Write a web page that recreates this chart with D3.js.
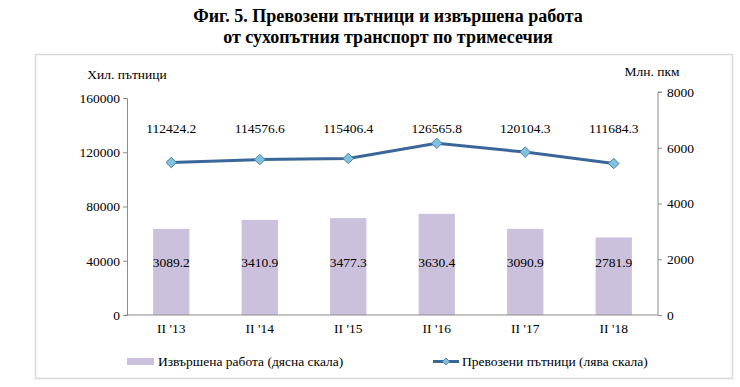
<!DOCTYPE html>
<html>
<head>
<meta charset="utf-8">
<script src="https://cdn.jsdelivr.net/npm/d3@7"></script>
</head>
<body style="margin:0;background:#fff">
<div id="main"></div>
<script>
const categories = ["II '13", "II '14", "II '15", "II '16", "II '17", "II '18"];
const work = [3089.2, 3410.9, 3477.3, 3630.4, 3090.9, 2781.9];
const passengers = [112424.2, 114576.6, 115406.4, 126565.8, 120104.3, 111684.3];
const leftTicks = [0, 40000, 80000, 120000, 160000];
const rightTicks = [0, 2000, 4000, 6000, 8000];

const W = 740, H = 387;
const FONT = '"Liberation Serif"';
const svg = d3.select("#main").append("svg")
  .attr("width", W).attr("height", H);

// title
const title = svg.append("text")
  .attr("text-anchor", "middle")
  .attr("font-weight", "bold")
  .attr("font-size", 18)
  .attr("fill", "#000");
title.append("tspan").attr("x", 388).attr("y", 22).text("Фиг. 5. Превозени пътници и извършена работа");
title.append("tspan").attr("x", 388).attr("y", 43).text("от сухопътния транспорт по тримесечия");

// frame
svg.append("rect")
  .attr("x", 35.5).attr("y", 54.5).attr("width", 697).attr("height", 324)
  .attr("fill", "none").attr("stroke", "#d9d9d9").attr("stroke-width", 1.5);

const x0 = 127, x1 = 658, yBase = 315;
const xScale = d3.scaleBand().domain(categories).range([x0, x1]).paddingInner(0.59).paddingOuter(0.295);
const xPoint = d => xScale(d) + xScale.bandwidth() / 2;
const yLeft = d3.scaleLinear().domain([0, 160000]).range([yBase, 98]);
const yRight = d3.scaleLinear().domain([0, 8000]).range([yBase, 92]);

// bars
svg.selectAll("rect.bar")
  .data(work)
  .join("rect")
  .attr("class", "bar")
  .attr("x", (d, i) => xScale(categories[i]))
  .attr("y", d => yRight(d))
  .attr("width", xScale.bandwidth())
  .attr("height", d => yBase - yRight(d))
  .attr("fill", "#cbc1dc");

// axes
const axisColor = "#8c8c8c";
const leftAxis = svg.append("g")
  .attr("transform", `translate(${x0},0)`)
  .call(d3.axisLeft(yLeft).tickValues(leftTicks).tickSize(4).tickPadding(3).tickFormat(d3.format("d")));
const rightAxis = svg.append("g")
  .attr("transform", `translate(${x1},0)`)
  .call(d3.axisRight(yRight).tickValues(rightTicks).tickSize(4).tickPadding(5).tickFormat(d3.format("d")));
const bottomAxis = svg.append("g")
  .attr("transform", `translate(0,${yBase})`)
  .call(d3.axisBottom(xScale).tickSize(0).tickPadding(8));

[leftAxis, rightAxis, bottomAxis].forEach(g => {
  g.select(".domain").attr("stroke", axisColor).attr("stroke-width", 1);
  g.selectAll(".tick line").attr("stroke", axisColor);
  g.selectAll(".tick text")
    .attr("font-size", 13.5).attr("fill", "#000");
});
rightAxis.select(".domain").attr("d", `M4,${yRight(8000)}H0V${yBase}`);
bottomAxis.select(".domain").attr("d", `M${x0 - 2},0H${x1}`);

// axis titles
svg.append("text").attr("x", 127).attr("y", 79).attr("text-anchor", "middle")
  .attr("font-size", 13.5).text("Хил. пътници");
svg.append("text").attr("x", 652).attr("y", 76).attr("text-anchor", "middle")
  .attr("font-size", 13.5).text("Млн. пкм");

// line
const line = d3.line()
  .x((d, i) => xPoint(categories[i]))
  .y(d => yLeft(d));
svg.append("path")
  .datum(passengers)
  .attr("d", line)
  .attr("fill", "none")
  .attr("stroke", "#3b6699")
  .attr("stroke-width", 3);

const diamond = d3.symbol().type(d3.symbolDiamond2).size(70);
svg.selectAll("path.marker")
  .data(passengers)
  .join("path")
  .attr("class", "marker")
  .attr("d", diamond)
  .attr("transform", (d, i) => `translate(${xPoint(categories[i])},${yLeft(d)})`)
  .attr("fill", "#80c1dc")
  .attr("stroke", "#4d80b3")
  .attr("stroke-width", 1);

// data labels
svg.selectAll("text.plabel")
  .data(passengers)
  .join("text")
  .attr("class", "plabel")
  .attr("x", (d, i) => xPoint(categories[i]))
  .attr("y", 133)
  .attr("text-anchor", "middle")
  .attr("font-size", 13.5)
  .text(d => d3.format(".1f")(d));

svg.selectAll("text.wlabel")
  .data(work)
  .join("text")
  .attr("class", "wlabel")
  .attr("x", (d, i) => xPoint(categories[i]))
  .attr("y", 267)
  .attr("text-anchor", "middle")
  .attr("font-size", 13.5)
  .text(d => d3.format(".1f")(d));

// legend
const lg = svg.append("g").attr("font-size", 13.5);
lg.append("rect").attr("x", 127).attr("y", 358).attr("width", 27).attr("height", 7).attr("fill", "#cbc1dc");
lg.append("text").attr("x", 158).attr("y", 366).text("Извършена работа (дясна скала)");
lg.append("line").attr("x1", 433).attr("x2", 459).attr("y1", 361.5).attr("y2", 361.5)
  .attr("stroke", "#3b6699").attr("stroke-width", 3);
lg.append("path").attr("d", d3.symbol().type(d3.symbolDiamond2).size(30))
  .attr("transform", "translate(446,361.5)")
  .attr("fill", "#80c1dc").attr("stroke", "#4d80b3");
lg.append("text").attr("x", 462).attr("y", 366).text("Превозени пътници (лява скала)");

// serif everywhere, set inline so nothing overrides it
svg.selectAll("text").style("font-family", FONT);
</script>
</body>
</html>
